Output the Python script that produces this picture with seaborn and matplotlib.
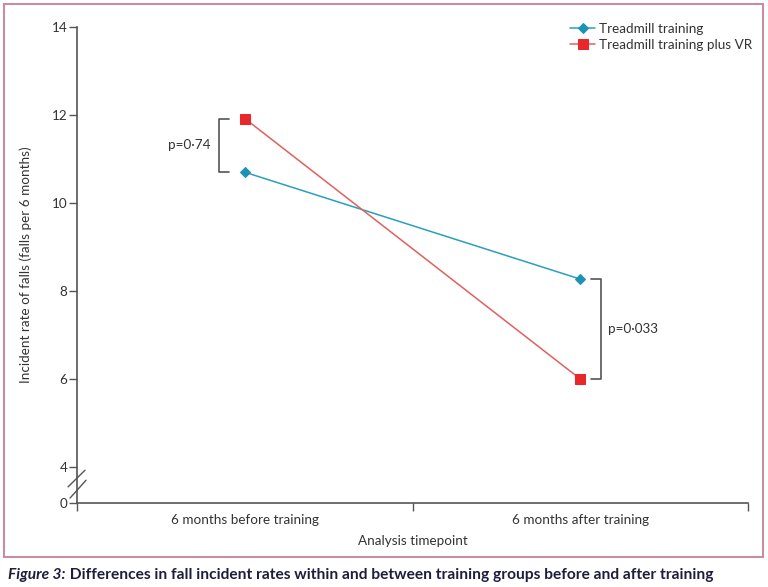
import pandas as pd
import matplotlib.pyplot as plt
import seaborn as sns
from matplotlib.patches import Rectangle

# Data
timepoints = ["6 months before training", "6 months after training"]
treadmill = [10.7, 8.27]
treadmill_vr = [11.92, 6.0]
p_before = "p=0·74"
p_after = "p=0·033"

df = pd.DataFrame({
    "Timepoint": timepoints * 2,
    "Rate": treadmill + treadmill_vr,
    "Group": ["Treadmill training"] * 2 + ["Treadmill training plus VR"] * 2,
})

sns.set_style("white")
plt.rcParams['font.family'] = ['Lato', 'DejaVu Sans']
text_col = "#333333"
axis_col = "#555555"

fig = plt.figure(figsize=(7.68, 5.87), dpi=100)
ax = fig.add_axes([0.1003, 0.143, 0.8737, 0.811])

palette = {"Treadmill training": "#2a9fbc", "Treadmill training plus VR": "#e0605e"}
markers = {"Treadmill training": "D", "Treadmill training plus VR": "s"}
sns.lineplot(data=df, x="Timepoint", y="Rate", hue="Group", style="Group",
             palette=palette, markers=markers, dashes=False, linewidth=1.1,
             markersize=6, ax=ax)


def restyle(line):
    if line.get_marker() == "s":
        line.set_markerfacecolor("#e8272a")
        line.set_markeredgecolor("#e8272a")
        line.set_markersize(6.5)
    elif line.get_marker() == "D":
        line.set_markerfacecolor("#1b93b3")
        line.set_markeredgecolor("#1b93b3")
        line.set_markersize(5)


for line in ax.lines:
    restyle(line)

ax.set_xlim(-0.5, 1.5)
ax.set_ylim(3.18, 14)
ax.set_yticks([3.18, 4, 6, 8, 10, 12, 14])
ax.set_yticklabels(["0", "4", "6", "8", "10", "12", "14"])
ax.set_xticks([0, 1])
ax.set_xticklabels(timepoints)
ax.set_xticks([-0.5, 0.5, 1.5], minor=True)
ax.tick_params(axis="x", which="major", length=0, pad=8, labelsize=9.7, labelcolor=text_col)
ax.tick_params(axis="x", which="minor", length=6, width=1, color=axis_col, direction="out")
ax.tick_params(axis="y", length=6, width=1, color=axis_col, direction="out",
               labelsize=9.7, labelcolor=text_col, pad=1)
ax.tick_params(left=True, bottom=True, which="both")

for s in ["top", "right"]:
    ax.spines[s].set_visible(False)
for s in ["left", "bottom"]:
    ax.spines[s].set_color(axis_col)
    ax.spines[s].set_linewidth(1.2)

ax.set_xlabel("Analysis timepoint", fontsize=9.7, color=text_col, labelpad=6)
ax.set_ylabel("Incident rate of falls (falls per 6 months)", fontsize=9.7,
              color=text_col, labelpad=14)

# axis break marks
ax.plot([-0.0134, 0.0119], [0.034, 0.069], transform=ax.transAxes,
        color=axis_col, lw=1.0, clip_on=False)
ax.plot([-0.0104, 0.0134], [0.0105, 0.048], transform=ax.transAxes,
        color=axis_col, lw=1.0, clip_on=False)

# significance brackets
bx0, bx1 = -0.047, -0.077
ax.plot([bx0, bx1, bx1, bx0], [treadmill_vr[0], treadmill_vr[0], treadmill[0], treadmill[0]],
        color=axis_col, lw=1.2)
ax.text(bx1 - 0.025, (treadmill_vr[0] + treadmill[0]) / 2, p_before, ha="right",
        va="center", fontsize=9.7, color=text_col)
cx0, cx1 = 1.032, 1.062
ax.plot([cx0, cx1, cx1, cx0], [treadmill[1], treadmill[1], treadmill_vr[1], treadmill_vr[1]],
        color=axis_col, lw=1.2)
ax.text(cx1 + 0.02, (treadmill[1] + treadmill_vr[1]) / 2, p_after, ha="left",
        va="center", fontsize=9.7, color=text_col)

leg = ax.legend(loc="upper right", bbox_to_anchor=(1.015, 1.02), frameon=False,
                fontsize=9.7, handlelength=1.9, handletextpad=0.3, labelspacing=0.3,
                borderaxespad=0)
for t in leg.get_texts():
    t.set_color(text_col)
for h in leg.legend_handles:
    restyle(h)

# pink frame around the chart
fig.patches.append(Rectangle((0.005, 0.051), 0.9885, 0.942, transform=fig.transFigure,
                             fill=False, edgecolor="#c58ea3", linewidth=1.5))

# caption
cap_col = "#1e1e3c"
t1 = fig.text(0.011, 0.013, "Figure 3:", fontsize=11.2, fontweight="bold",
              fontstyle="italic", color=cap_col, va="baseline")
ax.annotate(" Differences in fall incident rates within and between training groups before and after training",
            xy=(1, 0), xycoords=t1, va="bottom", ha="left", fontsize=11.2,
            fontweight="bold", color=cap_col, annotation_clip=False)

fig.savefig("out.png", dpi=100)
